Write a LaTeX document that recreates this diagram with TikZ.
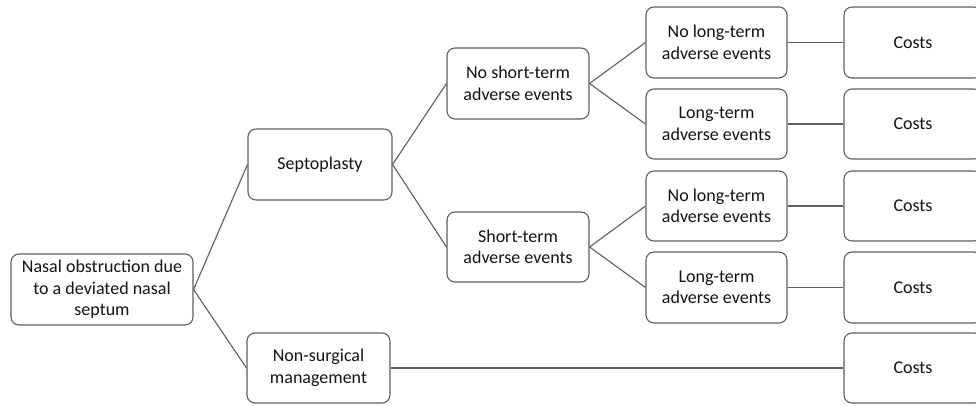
\documentclass[tikz,border=0pt]{standalone}
\usepackage{fontspec}
\setmainfont{Carlito}
\definecolor{edge}{RGB}{95,95,95}
\definecolor{txt}{RGB}{20,20,20}
\tikzset{
  box/.style={draw=edge, line width=1.1pt, rounded corners=8pt, fill=white,
    align=center, inner sep=0pt, text=txt,
    font=\fontsize{18}{21.5}\selectfont},
  link/.style={draw=edge, line width=1.1pt}
}
\begin{document}
\begin{tikzpicture}[x=1pt,y=-1pt]
\useasboundingbox (0,0) rectangle (976,406);
\clip (0,0) rectangle (976,406);
\node[box, minimum width=182pt, minimum height=71pt] (root) at (102,289.5) {Nasal obstruction due\\to a deviated nasal\\septum};
\node[box, minimum width=144pt, minimum height=71pt] (sept) at (320,164.5) {Septoplasty};
\node[box, minimum width=143pt, minimum height=70pt] (nons) at (318.5,368) {Non-surgical\\management};
\node[box, minimum width=142pt, minimum height=71pt] (nst) at (518,83.5) {No short-term\\adverse events};
\node[box, minimum width=142pt, minimum height=70pt] (st) at (518,247) {Short-term\\adverse events};
\node[box, minimum width=141pt, minimum height=71pt] (l1) at (716.5,42.5) {No long-term\\adverse events};
\node[box, minimum width=141pt, minimum height=70pt] (l2) at (716.5,124) {Long-term\\adverse events};
\node[box, minimum width=141pt, minimum height=70pt] (l3) at (716.5,206) {No long-term\\adverse events};
\node[box, minimum width=141pt, minimum height=71pt] (l4) at (716.5,287.5) {Long-term\\adverse events};
\node[box, minimum width=138pt, minimum height=71pt] (c1) at (913,42.5) {Costs};
\node[box, minimum width=138pt, minimum height=70pt] (c2) at (913,124) {Costs};
\node[box, minimum width=138pt, minimum height=70pt] (c3) at (913,206) {Costs};
\node[box, minimum width=138pt, minimum height=71pt] (c4) at (913,287.5) {Costs};
\node[box, minimum width=138pt, minimum height=70pt] (c5) at (913,368) {Costs};
\draw[link] (root.east) -- (sept.west);
\draw[link] (root.east) -- (nons.west);
\draw[link] (sept.east) -- (nst.west);
\draw[link] (sept.east) -- (st.west);
\draw[link] (nst.east) -- (l1.west);
\draw[link] (nst.east) -- (l2.west);
\draw[link] (st.east) -- (l3.west);
\draw[link] (st.east) -- (l4.west);
\draw[link] (l1.east) -- (c1.west);
\draw[link] (l2.east) -- (c2.west);
\draw[link] (l3.east) -- (c3.west);
\draw[link] (l4.east) -- (c4.west);
\draw[link] (nons.east) -- (c5.west);
\end{tikzpicture}
\end{document}
